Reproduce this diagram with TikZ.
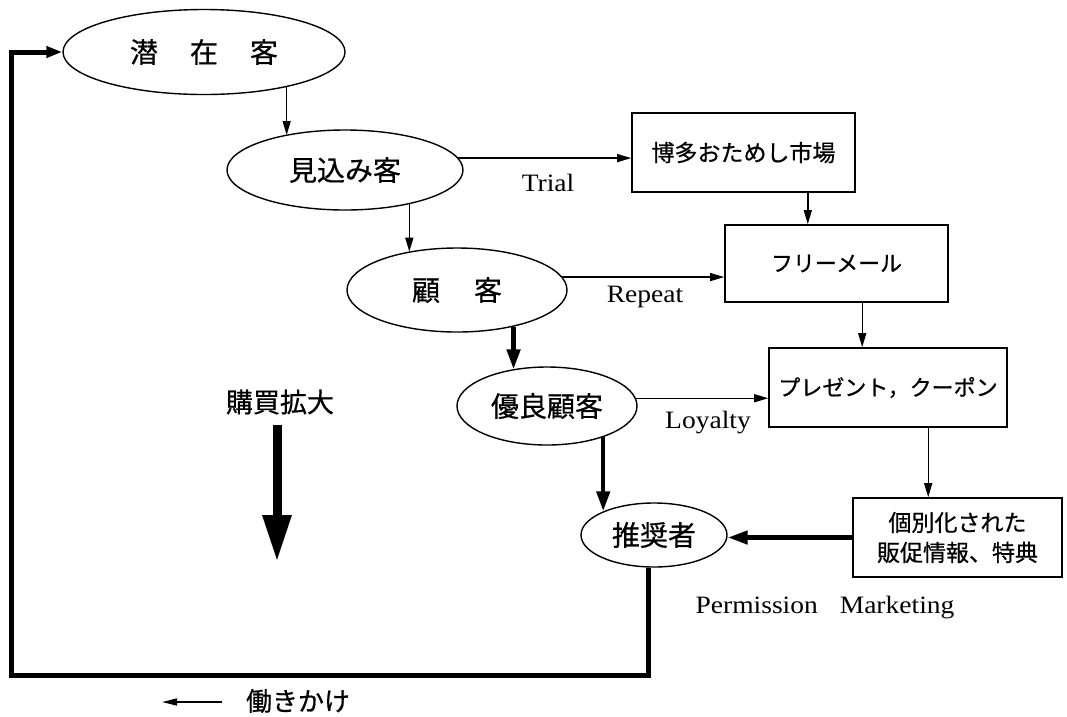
\documentclass[tikz,border=0pt]{standalone}
\usepackage{fontspec}
\setmainfont{Liberation Serif}
\newfontfamily\lat[FakeStretch=1.1]{Liberation Serif}
\newfontfamily\jp[FakeBold=0.6]{Noto Sans CJK JP}
\usetikzlibrary{shapes.geometric,arrows.meta,calc}
\begin{document}
\begin{tikzpicture}[x=1pt,y=-1pt,
  oval/.style={ellipse,draw,line width=1.4pt,inner sep=0pt,font=\jp\fontsize{28}{32}\selectfont},
  boxn/.style={rectangle,draw,line width=1.6pt,inner sep=0pt,align=center},
  boxfont/.style={font=\jp\fontsize{#1}{30}\selectfont},
  thinarr/.style={line width=1.4pt,-{Triangle[length=14pt,width=8pt]}},
  thickarr/.style={line width=4.5pt,-{Triangle[length=20pt,width=13pt]}},
  lbl/.style={font=\lat\fontsize{25}{28}\selectfont},
  jlbl/.style={font=\jp\fontsize{27}{32}\selectfont}]

\useasboundingbox[fill=white] (0,0) rectangle (1067,716);

% ellipses
\node[oval,minimum width=282pt,minimum height=85pt] (senzai) at (204,52) {潜\hspace{32pt}在\hspace{32pt}客};
\node[oval,minimum width=236pt,minimum height=80pt] (mikomi) at (345,170) {見込み客};
\node[oval,minimum width=220pt,minimum height=84pt] (kokyaku) at (457,290) {顧\hspace{34pt}客};
\node[oval,minimum width=180pt,minimum height=78pt] (yuryo) at (547,406) {優良顧客};
\node[oval,minimum width=146pt,minimum height=64pt] (sui) at (654,535) {推奨者};

% boxes
\node[boxn,boxfont=23,minimum width=223pt,minimum height=79pt] (box1) at (743.5,152.5) {博多おためし市場};
\node[boxn,boxfont=22,minimum width=223pt,minimum height=77pt] (box2) at (836.5,263.5) {フリーメール};
\node[boxn,boxfont=22,minimum width=238pt,minimum height=79pt] (box3) at (888,387.5) {プレゼント，クーポン};
\node[boxn,boxfont=23,minimum width=209pt,minimum height=79pt] (box4) at (957.5,537.5) {個別化された\\販促情報、特典};

% thin arrows
\draw[thinarr] (senzai.-23.4) -- (senzai.-23.4 |- mikomi.150.7);
\draw[thinarr] (mikomi.-28.2) -- (mikomi.-28.2 |- kokyaku.142.5);
\draw[thinarr] (mikomi.6.6) -- (mikomi.6.6 -| box1.west);
\draw[thinarr] (kokyaku.7.7) -- (kokyaku.7.7 -| box2.west);
\draw[thinarr] (yuryo.5.2) -- (yuryo.5.2 -| box3.west);
\coordinate (b1s) at ($(box1.south east)+(-48,0)$);
\draw[thinarr] (b1s) -- (b1s |- box2.north);
\coordinate (b2s) at ($(box2.south west)+(138,0)$);
\draw[thinarr] (b2s) -- (b2s |- box3.north);
\coordinate (b3s) at ($(box3.south west)+(160,0)$);
\draw[thinarr] (b3s) -- (b3s |- box4.north);

% thick arrows
\draw[thickarr] (kokyaku.-33.5) -- (kokyaku.-33.5 |- yuryo.134.3);
\draw[thickarr] (yuryo.-29.3) -- (yuryo.-29.3 |- sui.155.3);
\draw[thickarr] (box4.west) -- (box4.west -| sui.east);

% feedback loop
\coordinate (c1) at (11,675);
\coordinate (c2) at (11,52);
\draw[line width=5pt,-{Triangle[length=16pt,width=11pt]}] (sui.-99) -- (sui.-99 |- c1) -- (c1) -- (c2) -- (senzai.west);

% labels
\node[lbl] (trial) at (548,183) {Trial};
\node[lbl] (repeat) at (645,297) {Repeat};
\node[lbl] (loyalty) at (708,423) {Loyalty};
\node[lbl] (perm) at (825,608) {Permission\hspace{22pt}Marketing};
\node[jlbl] (kobai) at (280,402) {購買拡大};

% big arrow
\coordinate (k1) at (277,425);
\coordinate (k2) at (277,562);
\draw[line width=9pt,-{Triangle[length=47pt,width=27pt]}] (k1) -- (k2);

% legend
\coordinate (l1) at (222,702);
\coordinate (l2) at (162,702);
\draw[line width=1.5pt,-{Triangle[length=15pt,width=7pt]}] (l1) -- (l2);
\node[jlbl,font=\jp\fontsize{26}{30}\selectfont,inner sep=0pt] (hataraki) at (298,701) {働きかけ};
\end{tikzpicture}
\end{document}
